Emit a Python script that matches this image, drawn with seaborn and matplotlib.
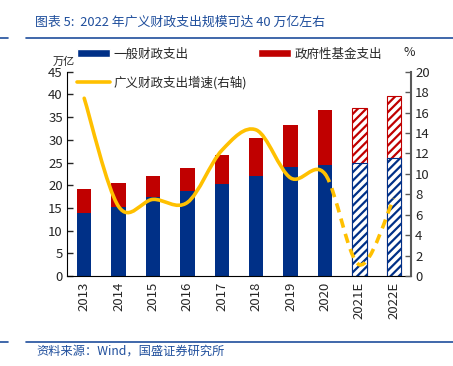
import numpy as np
import pandas as pd
import matplotlib
matplotlib.use("Agg")
import matplotlib.pyplot as plt
import seaborn as sns
from matplotlib.path import Path
from matplotlib.patches import PathPatch, Patch
from matplotlib.lines import Line2D

# data
years = ["2013", "2014", "2015", "2016", "2017", "2018", "2019", "2020", "2021E", "2022E"]
general_spend = [13.9, 15.1, 17.5, 18.7, 20.3, 22.0, 23.9, 24.4, 24.8, 26.1]   # 一般财政支出, 万亿
total_spend = [19.2, 20.5, 22.0, 23.7, 26.6, 30.3, 33.2, 36.5, 36.9, 39.7]     # 一般 + 政府性基金
growth = [17.4, 6.8, 7.5, 7.2, 12.3, 14.3, 9.6, 10.0, 1.1, 7.6]               # 广义财政支出增速, %
n_actual = 8  # 2013-2020 solid, estimates dashed

BLUE = "#003087"
RED = "#C00000"
GOLD = "#FFC000"
TITLE_BLUE = "#1F4E9C"

sns.set_style("white")
plt.rcParams["font.family"] = ["Noto Sans CJK SC", "DejaVu Sans"]
plt.rcParams["hatch.linewidth"] = 1.6

W, H = 453, 366
fig = plt.figure(figsize=(W / 100, H / 100), dpi=100)
ax = fig.add_axes([67 / W, 1 - 276 / H, (411 - 67) / W, (276 - 71.7) / H])

df = pd.DataFrame({"year": years, "general": general_spend, "total": total_spend})

sns.barplot(data=df, x="year", y="total", color=RED, width=0.42, saturation=1, ax=ax)
n_red = len(ax.patches)
sns.barplot(data=df, x="year", y="general", color=BLUE, width=0.42, saturation=1, ax=ax)

for i, p in enumerate(ax.patches):
    idx = i % n_red
    col = RED if i < n_red else BLUE
    p.set_linewidth(0)
    if idx >= n_actual:
        p.set_facecolor("white")
        p.set_edgecolor(col)
        p.set_hatch("////")
        p.set_linewidth(0.8)

ax.set_xlim(-0.5, len(years) - 0.5)
ax.set_ylim(0, 45)
ax.set_yticks(range(0, 46, 5))
ax.set_xlabel("")
ax.set_ylabel("")
ax.set_xticks(np.arange(-0.5, len(years), 1), minor=True)
ax.tick_params(axis="x", which="major", length=0, labelsize=9.5, rotation=90, pad=4)
ax.tick_params(axis="x", which="minor", length=4, width=1, direction="out", color="black")
ax.tick_params(axis="y", length=4, width=1, direction="in", labelsize=9.5, pad=3)
for s in ["top", "right"]:
    ax.spines[s].set_visible(False)
ax.spines["left"].set_color("black")
ax.spines["bottom"].set_color("black")

# growth line on the right axis, smoothed like the Excel line
ax2 = ax.twinx()
ax2.set_ylim(0, 20)
ax2.set_yticks(range(0, 21, 2))
ax2.tick_params(axis="y", length=4, width=1, direction="in", labelsize=9.5, pad=3, color="#595959")
for s in ["top", "left", "bottom"]:
    ax2.spines[s].set_visible(False)
ax2.spines["right"].set_color("#595959")
ax2.spines["right"].set_linewidth(1.5)

xs = np.arange(len(growth), dtype=float)
ys = np.array(growth)


def bezier_segment(i):
    x0, y0 = xs[i], ys[i]
    x3, y3 = xs[i + 1], ys[i + 1]
    xm, ym = (xs[i - 1], ys[i - 1]) if i > 0 else (x0, y0)
    xp, yp = (xs[i + 2], ys[i + 2]) if i + 2 < len(xs) else (x3, y3)
    c1 = (x0 + (x3 - xm) / 6, y0 + (y3 - ym) / 6)
    c2 = (x3 - (xp - x0) / 6, y3 - (yp - y0) / 6)
    return [(x0, y0), c1, c2, (x3, y3)]


def curve_path(start, stop):
    verts, codes = [], []
    for i in range(start, stop):
        seg = bezier_segment(i)
        if not verts:
            verts.append(seg[0])
            codes.append(Path.MOVETO)
        verts += seg[1:]
        codes += [Path.CURVE4] * 3
    return Path(verts, codes)


ax2.add_patch(PathPatch(curve_path(0, n_actual - 1), facecolor="none", edgecolor=GOLD,
                        linewidth=2.6, capstyle="round"))
ax2.add_patch(PathPatch(curve_path(n_actual - 1, len(xs) - 1), facecolor="none", edgecolor=GOLD,
                        linewidth=2.6, linestyle=(0, (2.6, 1.8))))

# legends
fig.legend(
    handles=[Patch(facecolor=BLUE), Patch(facecolor=RED)],
    labels=["一般财政支出", "政府性基金支出"],
    ncol=2, loc="center left", bbox_to_anchor=(77 / W, 1 - 54 / H),
    frameon=False, fontsize=9, handlelength=2.6, handleheight=0.6,
    handletextpad=0.3, columnspacing=5.6, borderpad=0, borderaxespad=0,
)
fig.legend(
    handles=[Line2D([], [], color=GOLD, linewidth=2.6)],
    labels=["广义财政支出增速(右轴)"],
    loc="center left", bbox_to_anchor=(77 / W, 1 - 83 / H),
    frameon=False, fontsize=9, handlelength=2.6, handletextpad=0.3,
    borderpad=0, borderaxespad=0,
)

fig.text(53 / W, 1 - 62 / H, "万亿", fontsize=8, ha="left", va="center", style="italic")
fig.text(403 / W, 1 - 53 / H, "%", fontsize=9, ha="left", va="center")

# title and source with rules
fig.text(35 / W, 1 - 22 / H, "图表 5:  2022 年广义财政支出规模可达 40 万亿左右",
         fontsize=9.3, color=TITLE_BLUE, ha="left", va="center", style="italic")
fig.text(36 / W, 1 - 351 / H, "资料来源：Wind，国盛证券研究所",
         fontsize=8.8, color=TITLE_BLUE, ha="left", va="center", style="italic")
for yy in (38, 342):
    fig.add_artist(Line2D([26 / W, 1], [1 - yy / H] * 2, color=TITLE_BLUE, linewidth=1.2))
    fig.add_artist(Line2D([0, 8 / W], [1 - yy / H] * 2, color=TITLE_BLUE, linewidth=1.2))

fig.savefig("out.png", dpi=100)
